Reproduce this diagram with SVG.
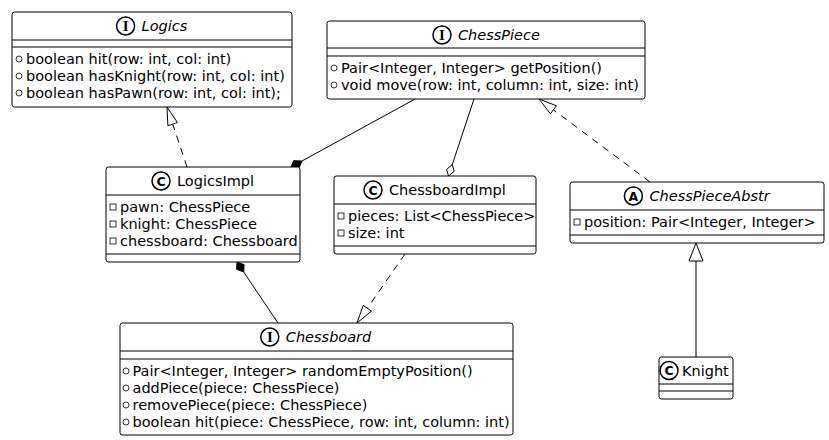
<svg xmlns="http://www.w3.org/2000/svg" width="829" height="440" viewBox="0 0 829 440">
<style>
.box{fill:#fff;stroke:#000;stroke-width:1}
.sep{stroke:#000;stroke-width:1}
.t{font-family:"DejaVu Sans",Verdana,sans-serif;font-size:14.5px;fill:#000}
.it{font-style:italic}
.ic{fill:#fff;stroke:#000;stroke-width:1.5}
.icl{font-family:"DejaVu Sans",sans-serif;font-weight:bold;font-size:12.5px;text-anchor:middle;fill:#000}
.ici{font-family:"Liberation Serif",serif;font-weight:bold;font-size:15px;text-anchor:middle;fill:#000}
.m{fill:none;stroke:#000;stroke-width:0.8}
.ln{fill:none;stroke:#000;stroke-width:1}
.dash{stroke-dasharray:7,6}
.hollow{fill:#fff;stroke:#000;stroke-width:1}
.solid{fill:#000;stroke:#000;stroke-width:1}
</style>
<rect width="829" height="440" fill="#fff"/>
<g id="connectors">
  <line class="ln dash" x1="187" y1="167" x2="172.7" y2="124.1"/>
  <polygon class="hollow" points="167,107 177.4,122.5 167.9,125.7"/>
  <line class="ln" x1="302" y1="161" x2="415" y2="99"/>
  <polygon class="solid" points="291,167 299.3,167.3 302,161 293.7,160.7"/>
  <line class="ln" x1="452.3" y1="164.6" x2="474" y2="99"/>
  <polygon class="hollow" points="448.5,176 454.2,171.2 452.3,164.6 446.6,169.4"/>
  <line class="ln dash" x1="650" y1="182" x2="553.4" y2="109.8"/>
  <polygon class="hollow" points="539,99 550.4,113.8 556.4,105.8"/>
  <line class="ln" x1="243.7" y1="272" x2="278" y2="323"/>
  <polygon class="solid" points="237,262 236.6,269.3 243.7,272 244.1,264.7"/>
  <line class="ln dash" x1="405" y1="254" x2="367.3" y2="308.2"/>
  <polygon class="hollow" points="357,323 371.4,311.1 363.2,305.3"/>
  <line class="ln" x1="696" y1="261" x2="696" y2="357"/>
  <polygon class="hollow" points="696,243 703,261 689,261"/>
</g>
<g id="Logics">
  <rect class="box" x="12" y="12" width="280" height="95" rx="2.5"/>
  <line class="sep" x1="12" y1="40" x2="292" y2="40"/>
  <line class="sep" x1="12" y1="47" x2="292" y2="47"/>
  <circle class="ic" cx="125.6" cy="26" r="9"/>
  <text class="ici" x="125.6" y="31.2">I</text>
  <text class="t it" x="141.6" y="31">Logics</text>
  <circle class="m" cx="19" cy="59" r="3"/>
  <text class="t" x="26" y="64">boolean hit(row: int, col: int)</text>
  <circle class="m" cx="19" cy="76" r="3"/>
  <text class="t" x="26" y="81">boolean hasKnight(row: int, col: int)</text>
  <circle class="m" cx="19" cy="93" r="3"/>
  <text class="t" x="26" y="98">boolean hasPawn(row: int, col: int);</text>
</g>
<g id="ChessPiece">
  <rect class="box" x="327" y="21" width="318" height="78" rx="2.5"/>
  <line class="sep" x1="327" y1="48" x2="645" y2="48"/>
  <line class="sep" x1="327" y1="56" x2="645" y2="56"/>
  <circle class="ic" cx="442" cy="35" r="9"/>
  <text class="ici" x="442" y="40.2">I</text>
  <text class="t it" x="458" y="40">ChessPiece</text>
  <circle class="m" cx="334" cy="68" r="3"/>
  <text class="t" x="341" y="73">Pair&lt;Integer, Integer&gt; getPosition()</text>
  <circle class="m" cx="334" cy="85" r="3"/>
  <text class="t" x="341" y="90">void move(row: int, column: int, size: int)</text>
</g>
<g id="LogicsImpl">
  <rect class="box" x="106" y="167" width="194" height="95" rx="2.5"/>
  <line class="sep" x1="106" y1="195" x2="300" y2="195"/>
  <line class="sep" x1="106" y1="254" x2="300" y2="254"/>
  <circle class="ic" cx="161" cy="181" r="9"/>
  <text class="icl" x="161" y="185.5">C</text>
  <text class="t" x="177" y="186">LogicsImpl</text>
  <rect class="m" x="110" y="204" width="6" height="6"/>
  <text class="t" x="120" y="212">pawn: ChessPiece</text>
  <rect class="m" x="110" y="221" width="6" height="6"/>
  <text class="t" x="120" y="229">knight: ChessPiece</text>
  <rect class="m" x="110" y="238" width="6" height="6"/>
  <text class="t" x="120" y="246">chessboard: Chessboard</text>
</g>
<g id="ChessboardImpl">
  <rect class="box" x="334" y="176" width="202" height="78" rx="2.5"/>
  <line class="sep" x1="334" y1="204" x2="536" y2="204"/>
  <line class="sep" x1="334" y1="246" x2="536" y2="246"/>
  <circle class="ic" cx="373" cy="190" r="9"/>
  <text class="icl" x="373" y="194.5">C</text>
  <text class="t" x="389" y="195">ChessboardImpl</text>
  <rect class="m" x="338" y="213" width="6" height="6"/>
  <text class="t" x="348" y="221">pieces: List&lt;ChessPiece&gt;</text>
  <rect class="m" x="338" y="230" width="6" height="6"/>
  <text class="t" x="348" y="238">size: int</text>
</g>
<g id="ChessPieceAbstr">
  <rect class="box" x="570" y="182" width="254" height="61" rx="2.5"/>
  <line class="sep" x1="570" y1="210" x2="824" y2="210"/>
  <line class="sep" x1="570" y1="235" x2="824" y2="235"/>
  <circle class="ic" cx="633.4" cy="196" r="9"/>
  <text class="icl" x="633.4" y="200.5">A</text>
  <text class="t it" x="649.4" y="201">ChessPieceAbstr</text>
  <rect class="m" x="574" y="219" width="6" height="6"/>
  <text class="t" x="584" y="227">position: Pair&lt;Integer, Integer&gt;</text>
</g>
<g id="Chessboard">
  <rect class="box" x="120" y="323" width="393" height="112" rx="2.5"/>
  <line class="sep" x1="120" y1="351" x2="513" y2="351"/>
  <line class="sep" x1="120" y1="359" x2="513" y2="359"/>
  <circle class="ic" cx="269.8" cy="337" r="9"/>
  <text class="ici" x="269.8" y="342.2">I</text>
  <text class="t it" x="285.8" y="342">Chessboard</text>
  <circle class="m" cx="126" cy="371" r="3"/>
  <text class="t" x="132.5" y="376">Pair&lt;Integer, Integer&gt; randomEmptyPosition()</text>
  <circle class="m" cx="126" cy="388" r="3"/>
  <text class="t" x="132.5" y="393">addPiece(piece: ChessPiece)</text>
  <circle class="m" cx="126" cy="405" r="3"/>
  <text class="t" x="132.5" y="410">removePiece(piece: ChessPiece)</text>
  <circle class="m" cx="126" cy="422" r="3"/>
  <text class="t" x="132.5" y="427">boolean hit(piece: ChessPiece, row: int, column: int)</text>
</g>
<g id="Knight">
  <rect class="box" x="659" y="357" width="74" height="42" rx="2.5"/>
  <line class="sep" x1="659" y1="384" x2="733" y2="384"/>
  <line class="sep" x1="659" y1="391" x2="733" y2="391"/>
  <circle class="ic" cx="669" cy="370.5" r="9"/>
  <text class="icl" x="669" y="375">C</text>
  <text class="t" x="682" y="375.5">Knight</text>
</g>
</svg>
